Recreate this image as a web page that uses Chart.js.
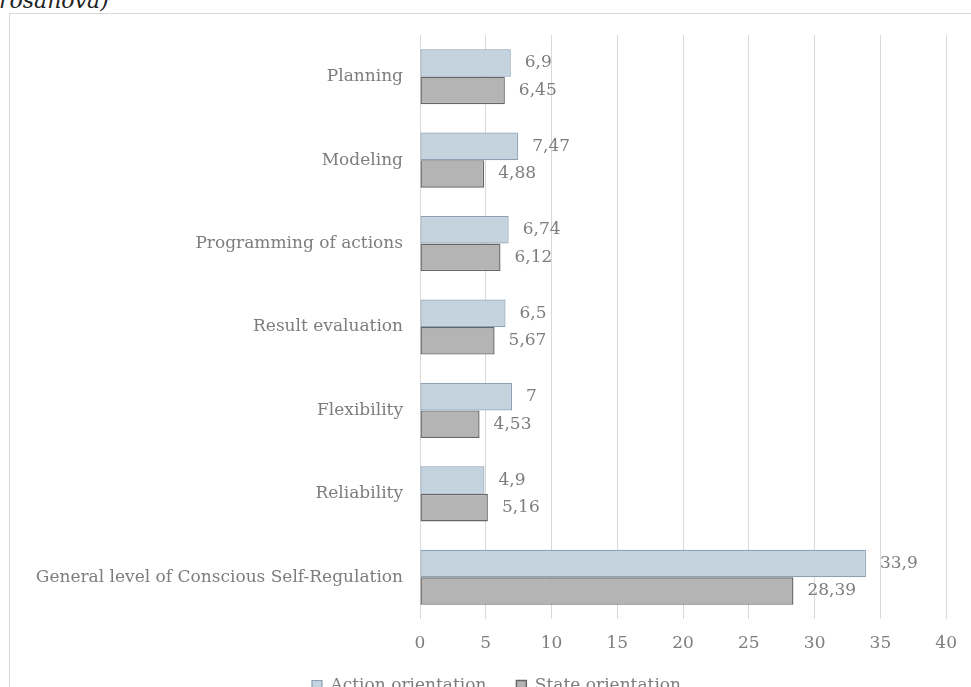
<!DOCTYPE html>
<html>
<head>
<meta charset="utf-8">
<script src="https://cdn.jsdelivr.net/npm/chart.js@4.4.0/dist/chart.umd.min.js"></script>
<style>
  html, body { margin: 0; padding: 0; background: #fff; overflow: hidden; width: 971px; height: 687px; }
  .caption {
    position: absolute; left: -1px; top: -10px;
    font: italic 22px/22px "DejaVu Serif", serif; color: #222; white-space: nowrap;
  }
  .frame {
    position: absolute; left: 9px; top: 13px; width: 980px; height: 720px;
    border-top: 1px solid #d9d9d9; border-left: 1px solid #d9d9d9;
  }
  #grafico { position: absolute; left: 10px; top: 0; }
</style>
</head>
<body>
<div class="caption">rosanova)</div>
<div class="frame"></div>
<canvas id="grafico" width="961" height="714"></canvas>
<script>
const categorias = [
  "Planning",
  "Modeling",
  "Programming of actions",
  "Result evaluation",
  "Flexibility",
  "Reliability",
  "General level of Conscious Self-Regulation"
];
const acaoValores = [6.9, 7.47, 6.74, 6.5, 7, 4.9, 33.9];
const estadoValores = [6.45, 4.88, 6.12, 5.67, 4.53, 5.16, 28.39];
const ticksX = [0, 5, 10, 15, 20, 25, 30, 35, 40];

const fonte = { family: "'DejaVu Serif', serif", size: 17 };
const corTexto = "#7d7d7d";

// escreve o valor de cada barra logo depois do fim dela, com vírgula decimal
const rotulosValor = {
  id: "rotulosValor",
  afterDatasetsDraw(chart) {
    const ctx = chart.ctx;
    ctx.save();
    ctx.font = `${fonte.size}px ${fonte.family}`;
    ctx.fillStyle = corTexto;
    ctx.textAlign = "left";
    ctx.textBaseline = "middle";
    chart.data.datasets.forEach((ds, i) => {
      chart.getDatasetMeta(i).data.forEach((bar, j) => {
        const txt = String(ds.data[j]).replace(".", ",");
        ctx.fillText(txt, bar.x + 14, bar.y);
      });
    });
    ctx.restore();
  }
};

// empurra a legenda um pouco para a direita e para cima depois do layout
const ajusteLegenda = {
  id: "ajusteLegenda",
  afterLayout(chart) {
    const lg = chart.legend;
    if (!lg) return;
    lg.left += 18; lg.right += 18;
    lg.top -= 10; lg.bottom -= 10;
  }
};

new Chart(document.getElementById("grafico"), {
  type: "bar",
  data: {
    labels: categorias,
    datasets: [
      {
        label: "Action orientation",
        data: acaoValores,
        backgroundColor: "#c5d3df",
        borderColor: "#8aa1b6",
        borderWidth: 1.2,
        borderSkipped: false
      },
      {
        label: "State orientation",
        data: estadoValores,
        backgroundColor: "#b4b4b4",
        borderColor: "#666666",
        borderWidth: 1.4,
        borderSkipped: false
      }
    ]
  },
  options: {
    indexAxis: "y",
    responsive: false,
    animation: false,
    devicePixelRatio: 1,
    categoryPercentage: 0.66,
    barPercentage: 1,
    layout: { padding: { top: 35, right: 24, left: 0, bottom: 0 } },
    scales: {
      x: {
        min: 0,
        max: 40,
        afterBuildTicks: s => { s.ticks = ticksX.map(v => ({ value: v })); },
        afterFit: s => { s.height = 38; },
        grid: { color: "#d9d9d9", drawTicks: false },
        border: { display: false },
        ticks: { font: fonte, color: corTexto, padding: 14 }
      },
      y: {
        afterFit: s => { s.width = 410; },
        grid: { display: false },
        border: { display: false },
        ticks: { font: fonte, color: corTexto, padding: 9 }
      }
    },
    plugins: {
      legend: {
        position: "bottom",
        labels: { font: fonte, color: corTexto, boxWidth: 10, boxHeight: 10, padding: 30 }
      },
      tooltip: { enabled: false }
    }
  },
  plugins: [rotulosValor, ajusteLegenda]
});
</script>
</body>
</html>
